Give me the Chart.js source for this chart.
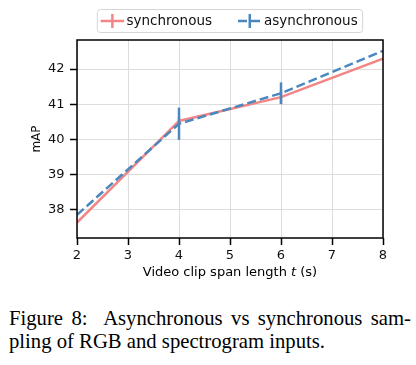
<!DOCTYPE html>
<html>
<head>
<meta charset="utf-8">
<script src="https://cdn.jsdelivr.net/npm/chart.js@4/dist/chart.umd.min.js"></script>
<style>
  html, body { margin: 0; padding: 0; background: #fff; }
  #wrap { position: relative; width: 416px; height: 365px; overflow: hidden; }
  #c { position: absolute; left: 0; top: 0; }
  .cap { position: absolute; left: 9px; width: 402px; font-family: "Liberation Serif", "Times New Roman", serif;
         font-size: 20.7px; line-height: 22.7px; color: #000; white-space: nowrap; }
  #cap1 { top: 307px; text-align: justify; text-align-last: justify; }
  #cap2 { top: 329.7px; text-align: left; }
</style>
</head>
<body>
<div id="wrap">
  <canvas id="c" width="416" height="290"></canvas>
  <div class="cap" id="cap1">Figure 8:&nbsp; Asynchronous vs synchronous sam-</div>
  <div class="cap" id="cap2">pling of RGB and spectrogram inputs.</div>
</div>
<script>
// ---- data ----
const spanLengths = [2, 4, 6, 8];
const syncMAP  = [37.62, 40.52, 41.20, 42.30];
const syncErr  = [0.00, 0.08, 0.20, 0.00];
const asyncMAP = [37.84, 40.44, 41.31, 42.52];
const asyncErr = [0.00, 0.46, 0.31, 0.00];
const seriesLabels = ['synchronous', 'asynchronous'];
const yTickValues = [38, 39, 40, 41, 42];
const xTitleParts = ['Video clip span length ', 't', ' (s)'];
const yTitle = 'mAP';

const PINK = '#f28585';
const BLUE = '#4b87bf';
const FONT = '"DejaVu Sans", Verdana, sans-serif';

const errs = [syncErr, asyncErr];

const errorBarPlugin = {
  id: 'errorBars',
  afterDatasetDraw(chart, args) {
    const ds = chart.data.datasets[args.index];
    const e = errs[args.index];
    if (!e) return;
    const xs = chart.scales.x, ys = chart.scales.y, ctx = chart.ctx;
    const a = chart.chartArea;
    ctx.save();
    ctx.beginPath(); ctx.rect(a.left, a.top, a.right - a.left, a.bottom - a.top); ctx.clip();
    ctx.strokeStyle = ds.borderColor; ctx.lineWidth = 2.5; ctx.setLineDash([]);
    ds.data.forEach((p, i) => {
      if (!e[i]) return;
      const x = xs.getPixelForValue(p.x);
      ctx.beginPath();
      ctx.moveTo(x, ys.getPixelForValue(p.y - e[i]));
      ctx.lineTo(x, ys.getPixelForValue(p.y + e[i]));
      ctx.stroke();
    });
    ctx.restore();
  }
};

const framePlugin = {
  id: 'frameAndText',
  afterDraw(chart) {
    const ctx = chart.ctx, a = chart.chartArea;
    ctx.save();
    // frame
    ctx.strokeStyle = '#000'; ctx.lineWidth = 1.5; ctx.setLineDash([]);
    ctx.strokeRect(a.left, a.top, a.right - a.left, a.bottom - a.top);
    // x title with italic t
    const fN = '13px ' + FONT, fI = 'oblique 13px ' + FONT;
    ctx.fillStyle = '#000'; ctx.textBaseline = 'middle'; ctx.textAlign = 'left';
    ctx.font = fN; const w0 = ctx.measureText(xTitleParts[0]).width;
    ctx.font = fI; const w1 = ctx.measureText(xTitleParts[1]).width;
    ctx.font = fN; const w2 = ctx.measureText(xTitleParts[2]).width;
    let x = (a.left + a.right) / 2 - (w0 + w1 + w2) / 2;
    const y = 273;
    ctx.font = fN; ctx.fillText(xTitleParts[0], x, y); x += w0;
    ctx.font = fI; ctx.fillText(xTitleParts[1], x, y); x += w1;
    ctx.font = fN; ctx.fillText(xTitleParts[2], x, y);

    // legend
    ctx.font = '13.5px ' + FONT;
    const handleW = 23.5, gapHT = 2.4, gapItems = 26, padL = 3.3, padR = 5;
    const tw = seriesLabels.map(s => ctx.measureText(s).width);
    const total = padL + handleW + gapHT + tw[0] + gapItems + handleW + gapHT + tw[1] + padR;
    const bx = (a.left + a.right) / 2 - total / 2, by = 9.5, bh = 23, r = 3;
    ctx.beginPath();
    ctx.moveTo(bx + r, by); ctx.lineTo(bx + total - r, by); ctx.arcTo(bx + total, by, bx + total, by + r, r);
    ctx.lineTo(bx + total, by + bh - r); ctx.arcTo(bx + total, by + bh, bx + total - r, by + bh, r);
    ctx.lineTo(bx + r, by + bh); ctx.arcTo(bx, by + bh, bx, by + bh - r, r);
    ctx.lineTo(bx, by + r); ctx.arcTo(bx, by, bx + r, by, r); ctx.closePath();
    ctx.fillStyle = 'rgba(255,255,255,0.85)'; ctx.fill();
    ctx.strokeStyle = '#d6d6d6'; ctx.lineWidth = 1; ctx.stroke();
    const cy = by + bh / 2;
    let cx = bx + padL;
    chart.data.datasets.forEach((ds, i) => {
      ctx.strokeStyle = ds.borderColor; ctx.lineWidth = 2.5;
      ctx.setLineDash(ds.borderDash || []);
      ctx.beginPath(); ctx.moveTo(cx, cy); ctx.lineTo(cx + handleW, cy); ctx.stroke();
      ctx.setLineDash([]);
      ctx.beginPath(); ctx.moveTo(cx + handleW / 2, cy - 7); ctx.lineTo(cx + handleW / 2, cy + 7); ctx.stroke();
      cx += handleW + gapHT;
      ctx.fillStyle = '#111'; ctx.textBaseline = 'middle'; ctx.textAlign = 'left';
      ctx.fillText(ds.label, cx, cy + 0.5);
      cx += tw[i] + gapItems;
    });
    ctx.restore();
  }
};

const toPts = (xs, ys) => xs.map((x, i) => ({ x, y: ys[i] }));

new Chart(document.getElementById('c'), {
  type: 'line',
  data: {
    datasets: [
      { label: seriesLabels[0], data: toPts(spanLengths, syncMAP), borderColor: PINK, backgroundColor: PINK,
        borderWidth: 2.5, pointRadius: 0, tension: 0, order: 1 },
      { label: seriesLabels[1], data: toPts(spanLengths, asyncMAP), borderColor: BLUE, backgroundColor: BLUE,
        borderWidth: 2.5, borderDash: [9, 4], pointRadius: 0, tension: 0, order: 0 }
    ]
  },
  options: {
    responsive: false,
    animation: false,
    events: [],
    layout: { padding: { top: 40, right: 33, left: 0, bottom: 0 } },
    plugins: { legend: { display: false }, tooltip: { enabled: false }, title: { display: false } },
    scales: {
      x: {
        type: 'linear', min: 2, max: 8,
        ticks: { stepSize: 1, color: '#111', font: { family: FONT, size: 13 }, padding: 3 },
        grid: { color: '#dddddd', lineWidth: 1, tickColor: '#000', tickWidth: 1.5, tickLength: 7 },
        border: { display: false },
        afterFit(s) { s.height = 52; }
      },
      y: {
        type: 'linear', min: 37.18, max: 42.83,
        afterBuildTicks(s) { s.ticks = yTickValues.map(v => ({ value: v })); },
        ticks: { color: '#111', font: { family: FONT, size: 13 }, padding: 5.5 },
        grid: { color: '#dddddd', lineWidth: 1, tickColor: '#000', tickWidth: 1.5, tickLength: 7 },
        border: { display: false },
        title: { display: true, text: yTitle, color: '#111', font: { family: FONT, size: 12 }, padding: { top: 29.5, bottom: 0 } },
        afterFit(s) { s.width = 77; }
      }
    }
  },
  plugins: [errorBarPlugin, framePlugin]
});
</script>
</body>
</html>
